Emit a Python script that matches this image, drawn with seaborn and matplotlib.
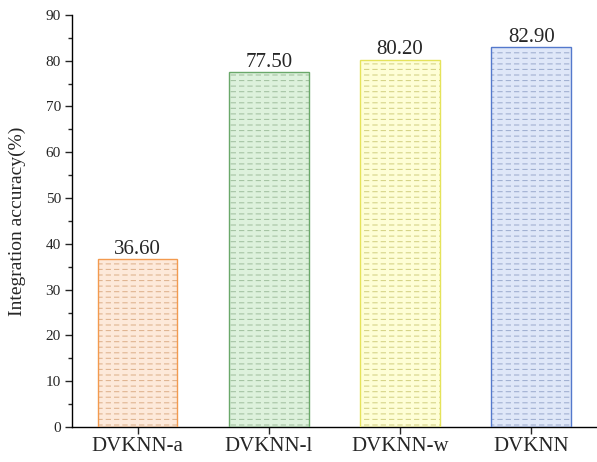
import matplotlib
matplotlib.use("Agg")
import matplotlib.pyplot as plt
import seaborn as sns
import pandas as pd
from matplotlib.patches import Rectangle
from matplotlib.ticker import MultipleLocator

categories = ["DVKNN-a", "DVKNN-l", "DVKNN-w", "DVKNN"]
values = [36.60, 77.50, 80.20, 82.90]
fill_colors = ["#FDE9DA", "#DDF1DC", "#FEFED6", "#DFE7F8"]
edge_colors = ["#F39A4F", "#6AA86A", "#E5E35A", "#5479CC"]
hatch_colors = ["#E0B592", "#A6C4A4", "#D6D488", "#A2B1D2"]

sns.set_style("ticks")
plt.rcParams['font.family'] = ['Liberation Serif', 'DejaVu Serif']

df = pd.DataFrame({"cat": categories, "val": values})
fig = plt.figure(figsize=(5.97, 4.62), dpi=100)
ax = fig.add_axes([0.1206, 0.0758, 0.879, 0.892])
sns.barplot(data=df, x="cat", y="val", hue="cat", palette=fill_colors,
            width=0.606, ax=ax, legend=False, saturation=1)

bars = list(ax.patches)
for p, fc, hc, ec in zip(bars, fill_colors, hatch_colors, edge_colors):
    x0, y0 = p.get_x(), p.get_y()
    w, h = p.get_width(), p.get_height()
    p.set_linewidth(0)
    # horizontal hatch lines
    plt.rcParams['hatch.linewidth'] = 0.8
    r1 = Rectangle((x0, y0), w, h, fill=False, edgecolor=hc, linewidth=0, hatch="---", zorder=2.1)
    ax.add_patch(r1)
    # break the lines into dashes
    plt.rcParams['hatch.linewidth'] = 2.2
    r2 = Rectangle((x0, y0), w, h, fill=False, edgecolor=fc, linewidth=0, hatch="||", zorder=2.2)
    ax.add_patch(r2)
    if hasattr(r1, "set_hatch_linewidth"):
        r1.set_hatch_linewidth(0.8)
        r2.set_hatch_linewidth(2.2)
    ax.add_patch(Rectangle((x0, y0), w, h, fill=False, edgecolor=ec, linewidth=1.0, zorder=3))
    ax.text(x0 + w / 2, h + 0.1, f"{h:.2f}", ha="center", va="bottom", fontsize=15)

ax.set_xlim(-0.5, 3.5)
ax.set_ylim(0, 90)
ax.yaxis.set_major_locator(MultipleLocator(10))
ax.yaxis.set_minor_locator(MultipleLocator(5))
ax.tick_params(axis="y", which="major", length=5, width=1, labelsize=11, direction="out", pad=3)
ax.tick_params(axis="y", which="minor", length=3, width=1, direction="out")
ax.tick_params(axis="x", length=5, width=1, labelsize=15, direction="out", pad=2)
ax.set_xlabel("")
ax.set_ylabel("Integration accuracy(%)", fontsize=14)
ax.yaxis.set_label_coords(-0.088, 0.5)
for s in ["top", "right"]:
    ax.spines[s].set_visible(False)
for s in ["left", "bottom"]:
    ax.spines[s].set_linewidth(1.0)
    ax.spines[s].set_color("black")

fig.savefig("out.png", dpi=100)
